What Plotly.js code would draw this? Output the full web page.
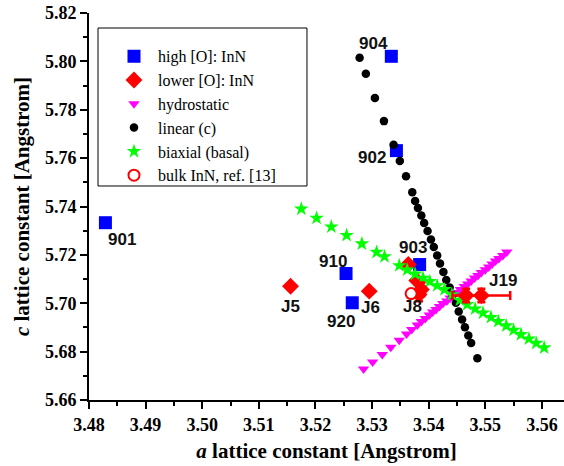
<!DOCTYPE html>
<html><head><meta charset="utf-8">
<script src="https://cdn.plot.ly/plotly-3.0.1.min.js"></script>
<style>html,body{margin:0;padding:0;background:#fff}#chart{width:564px;height:466px}</style>
</head><body><div id="chart"></div>
<script>
// ---- data (a, c lattice constants in Angstrom) ----
const highA = [3.5334, 3.5343, 3.4829, 3.5254, 3.5265, 3.5384];
const highC = [5.8021, 5.7631, 5.7333, 5.7123, 5.7002, 5.7160];
const highNames = ['904', '902', '901', '910', '920', '903'];

const lowA = [3.5156, 3.5295, 3.5364, 3.5379];
const lowC = [5.7070, 5.7050, 5.7160, 5.7094];
const lowNames = ['J5', 'J6', '', ''];

const lowErrA = [3.5387, 3.5383, 3.5466, 3.5493];
const lowErrC = [5.7057, 5.7036, 5.7032, 5.7032];
const lowErrNames = ['J8', '', '', 'J19'];
const lowErrDA = [0, 0, 0, 0.0051];
const lowErrDC = [0.0028, 0.0028, 0.0028, 0.0028];

const hydroA = [3.5285, 3.5301, 3.5318, 3.5333, 3.5348, 3.5361, 3.5370, 3.5380, 3.5387, 3.5394, 3.5401,
  3.5407, 3.5413, 3.5419, 3.5425, 3.5432, 3.5438, 3.5444, 3.5450, 3.5456, 3.5463, 3.5469, 3.5475,
  3.5481, 3.5487, 3.5493, 3.5500, 3.5506, 3.5512, 3.5518, 3.5524, 3.5531, 3.5538];
const hydroC = [5.6728, 5.6757, 5.6788, 5.6818, 5.6847, 5.6873, 5.6891, 5.6910, 5.6925, 5.6937, 5.6951,
  5.6964, 5.6974, 5.6987, 5.6999, 5.7009, 5.7022, 5.7034, 5.7044, 5.7057, 5.7069, 5.7080, 5.7092,
  5.7104, 5.7115, 5.7127, 5.7139, 5.7150, 5.7162, 5.7175, 5.7185, 5.7197, 5.7212];

const linA = [3.5278, 3.5289, 3.5305, 3.5321, 3.5338, 3.5349, 3.5360, 3.5371, 3.5376, 3.5381, 3.5387,
  3.5392, 3.5398, 3.5404, 3.5409, 3.5415, 3.5420, 3.5426, 3.5431, 3.5437, 3.5442, 3.5448, 3.5453,
  3.5459, 3.5464, 3.5470, 3.5475, 3.5486];
const linC = [5.8015, 5.7949, 5.7849, 5.7753, 5.7655, 5.7588, 5.7525, 5.7459, 5.7423, 5.7394, 5.7363,
  5.7332, 5.7299, 5.7264, 5.7233, 5.7197, 5.7164, 5.7129, 5.7096, 5.7065, 5.7034, 5.7002, 5.6966,
  5.6933, 5.6901, 5.6867, 5.6836, 5.6773];

const biaxA = [3.5175, 3.5202, 3.5228, 3.5255, 3.5282, 3.5308, 3.5322, 3.5348, 3.5362, 3.5376, 3.5390,
  3.5402, 3.5415, 3.5428, 3.5441, 3.5455, 3.5468, 3.5482, 3.5496, 3.5510, 3.5523, 3.5537, 3.5550,
  3.5563, 3.5577, 3.5590, 3.5604];
const biaxC = [5.7390, 5.7352, 5.7316, 5.7281, 5.7246, 5.7211, 5.7193, 5.7156, 5.7138, 5.7121, 5.7104,
  5.7090, 5.7073, 5.7057, 5.7036, 5.7013, 5.6995, 5.6977, 5.6960, 5.6942, 5.6925, 5.6907, 5.6889,
  5.6871, 5.6853, 5.6835, 5.6816];

const bulkA = [3.5369];
const bulkC = [5.7040];

const seriesNames = ['high [O]: InN', 'lower [O]: InN', 'hydrostatic', 'linear (c)', 'biaxial (basal)', 'bulk InN, ref. [13]'];

// label offsets in pixels relative to their point: [dx, dy(up)]
const highLabelShift = [[-18, 12.7], [-24, -6.7], [16.4, -16.7], [-13, 12.3], [-11, -18.7], [-7, 16.7]];
const lowLabelShift = [[0, -20.6], [1.5, -16.6], [0, 0], [0, 0]];
const lowErrLabelShift = [[-9.3, -17], [0, 0], [0, 0], [22, 15.3]];

const serif = 'Liberation Serif, Times New Roman, serif';
const sans = 'Liberation Sans, Arial, sans-serif';

const traces = [
  {x: highA, y: highC, name: seriesNames[0], type: 'scatter', mode: 'markers', cliponaxis: false,
   marker: {symbol: 'square', size: 13, color: '#0000ff', line: {width: 0}}, legendrank: 1},
  {x: lowA, y: lowC, name: seriesNames[1], type: 'scatter', mode: 'markers', cliponaxis: false,
   marker: {symbol: 'diamond', size: 13, color: '#ff0000', line: {width: 0}}, legendrank: 2},
  {x: hydroA, y: hydroC, name: seriesNames[2], type: 'scatter', mode: 'markers', cliponaxis: false,
   marker: {symbol: 'triangle-down', size: 10, color: '#ff00ff', line: {width: 0}}, legendrank: 3},
  {x: linA, y: linC, name: seriesNames[3], type: 'scatter', mode: 'markers', cliponaxis: false,
   marker: {symbol: 'circle', size: 8.5, color: '#000000', line: {width: 0}}, legendrank: 4},
  {x: biaxA, y: biaxC, name: seriesNames[4], type: 'scatter', mode: 'markers', cliponaxis: false,
   marker: {symbol: 'star', size: 11, color: '#00ff00', line: {width: 0}}, legendrank: 5},
  {x: lowErrA, y: lowErrC, name: seriesNames[1], type: 'scatter', mode: 'markers', cliponaxis: false, showlegend: false,
   marker: {symbol: 'diamond', size: 13, color: '#ff0000', line: {width: 0}},
   error_x: {type: 'data', array: lowErrDA, color: '#ff0000', thickness: 2.5, width: 4.5},
   error_y: {type: 'data', array: lowErrDC, color: '#ff0000', thickness: 2.5, width: 4}},
  {x: bulkA, y: bulkC, name: seriesNames[5], type: 'scatter', mode: 'markers', cliponaxis: false,
   marker: {symbol: 'circle', size: 11, color: '#ffffff', line: {width: 2, color: '#ff0000'}}, legendrank: 6}
];

const annotations = [];
function addLabels(xs, ys, names, shifts) {
  names.forEach((n, i) => {
    if (!n) return;
    annotations.push({x: xs[i], y: ys[i], xref: 'x', yref: 'y', text: n, showarrow: false,
      xanchor: 'center', yanchor: 'middle', xshift: shifts[i][0], yshift: shifts[i][1],
      font: {family: sans, size: 17, weight: 'bold', color: '#111'}});
  });
}
addLabels(highA, highC, highNames, highLabelShift);
addLabels(lowA, lowC, lowNames, lowLabelShift);
addLabels(lowErrA, lowErrC, lowErrNames, lowErrLabelShift);

const layout = {
  width: 564, height: 466,
  margin: {l: 89, r: 0, t: 13, b: 66},
  paper_bgcolor: '#ffffff', plot_bgcolor: '#ffffff',
  showlegend: true,
  legend: {x: 0.0442, y: 0.932, xanchor: 'left', yanchor: 'top', bgcolor: 'rgba(0,0,0,0)',
    borderwidth: 0, itemwidth: 38, font: {family: serif, size: 16, color: '#000'}},
  shapes: [{type: 'rect', xref: 'paper', yref: 'paper', x0: 0.01895, x1: 0.4589, y0: 0.553, y1: 0.9612,
    line: {color: '#000', width: 1}, fillcolor: 'rgba(0,0,0,0)', layer: 'above'}],
  annotations: annotations,
  xaxis: {
    range: [3.48, 3.5639], dtick: 0.01, tick0: 3.48, tickformat: '.2f',
    showline: true, linecolor: '#000', linewidth: 2, mirror: false,
    ticks: 'outside', ticklen: 7, tickwidth: 2, tickcolor: '#000',
    minor: {dtick: 0.005, ticks: 'outside', ticklen: 4, tickwidth: 2, tickcolor: '#000'},
    showgrid: false, zeroline: false,
    tickfont: {family: serif, size: 18, weight: 'bold', color: '#000'},
    title: {text: '<i>a</i> lattice constant [Angstrom]', standoff: 10,
      font: {family: serif, size: 21, weight: 'bold', color: '#000'}}
  },
  yaxis: {
    range: [5.66, 5.82], dtick: 0.02, tick0: 5.66, tickformat: '.2f',
    showline: true, linecolor: '#000', linewidth: 2, mirror: false,
    ticks: 'outside', ticklen: 7, tickwidth: 2, tickcolor: '#000',
    minor: {dtick: 0.01, ticks: 'outside', ticklen: 4, tickwidth: 2, tickcolor: '#000'},
    showgrid: false, zeroline: false,
    tickfont: {family: serif, size: 18, weight: 'bold', color: '#000'},
    title: {text: '<i>c</i> lattice constant [Angstrom]', standoff: 10,
      font: {family: serif, size: 21, weight: 'bold', color: '#000'}}
  }
};

Plotly.newPlot('chart', traces, layout, {displayModeBar: false, staticPlot: true});
</script></body></html>
